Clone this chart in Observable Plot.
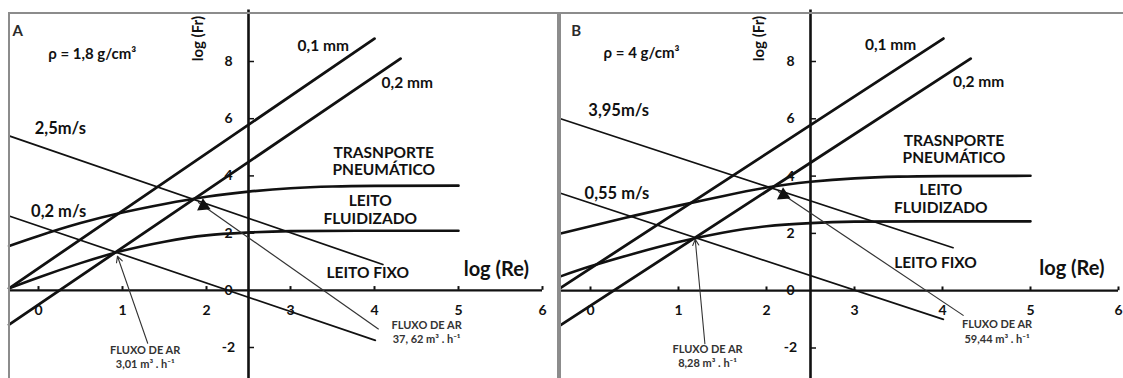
<!DOCTYPE html>
<html><head><meta charset="utf-8">
<script src="https://cdn.jsdelivr.net/npm/d3@7"></script>
<script src="https://cdn.jsdelivr.net/npm/@observablehq/plot@0.6"></script>
<style>
body{margin:0;background:#fff;}
#wrap{position:relative;width:1123px;height:378px;overflow:hidden;background:#fff;}
.panel{position:absolute;top:0;}
.frame{position:absolute;border:2px solid #8c8c8c;border-bottom:none;pointer-events:none;}
</style></head><body>
<div id="wrap"></div>
<script>
// ---- shared tick values ----
const xTicks = [0, 1, 2, 3, 4, 5, 6];
const yTicks = [-2, 0, 2, 4, 6, 8];

// ---- panel A (rho = 1,8 g/cm3) ----
const diam01A = [[-0.35, 0.07], [4.0, 8.8]];
const diam02A = [[-0.35, -1.2], [4.31, 8.1]];
const pneumA = [[-0.35, 1.55], [0, 1.9], [0.5, 2.35], [1, 2.72], [1.5, 3.02], [2, 3.27], [2.5, 3.45], [3, 3.57], [3.5, 3.63], [4, 3.65], [5, 3.66]];
const fluidA = [[-0.35, 0.07], [0, 0.45], [0.5, 0.95], [1, 1.38], [1.5, 1.7], [2, 1.92], [2.5, 2.02], [3, 2.07], [4, 2.08], [5, 2.08]];
const velHighA = [[-0.35, 5.4], [4.1, 0.9]];
const velLowA = [[-0.35, 2.6], [4.01, -1.75]];
const arrowOpenA = {tail: [1.3, -1.85], tip: [0.94, 1.19]};
const arrowFilledA = {tail: [4.05, -1.36], tip: [1.9, 3.08]};

// ---- panel B (rho = 4 g/cm3) ----
const diam01B = [[-0.34, 0.1], [4.01, 8.8]];
const diam02B = [[-0.34, -1.2], [4.32, 8.1]];
const pneumB = [[-0.34, 2.0], [0, 2.25], [0.5, 2.62], [1, 2.97], [1.5, 3.3], [2, 3.6], [2.5, 3.8], [3, 3.92], [3.5, 3.98], [4, 4.0], [5, 4.01]];
const fluidB = [[-0.34, 0.5], [0, 0.85], [0.5, 1.3], [1, 1.7], [1.5, 2.02], [2, 2.25], [2.5, 2.36], [3, 2.41], [4, 2.42], [5, 2.42]];
const velHighB = [[-0.34, 6.0], [4.12, 1.5]];
const velLowB = [[-0.34, 3.4], [4.01, -1.0]];
const arrowOpenB = {tail: [1.3, -1.85], tip: [1.19, 1.79]};
const arrowFilledB = {tail: [4.24, -0.87], tip: [2.13, 3.47]};

// ---- texts ----
const textsA = {
  letter: "A", rho: "ρ = 1,8 g/cm³", velHigh: "2,5m/s", velLow: "0,2 m/s",
  fluxLow: "FLUXO DE AR\n3,01 m³ . h⁻¹", fluxHigh: "FLUXO DE AR\n37, 62 m³ . h⁻¹"
};
const textsB = {
  letter: "B", rho: "ρ = 4 g/cm³", velHigh: "3,95m/s", velLow: "0,55 m/s",
  fluxLow: "FLUXO DE AR\n8,28 m³ . h⁻¹", fluxHigh: "FLUXO DE AR\n59,44 m³ . h⁻¹"
};
const regionTexts = ["TRASNPORTE\nPNEUMÁTICO", "LEITO\nFLUIDIZADO", "LEITO FIXO"];
const sizeTexts = ["0,1 mm", "0,2 mm"];
const axisTitles = {x: "log (Re)", y: "log (Fr)"};

const FONT = "Lato, 'Open Sans', sans-serif";
const INK = "#111";

function panel(cfg) {
  const pxX = (cfg.xr[1] - cfg.xr[0]) / 6;
  const pxY = (cfg.yr[0] - cfg.yr[1]) / 10;
  const xmin = cfg.diam01[0][0];
  const filledAngle = (a) => {
    const dxp = (a.tail[0] - a.tip[0]) * pxX;
    const dyp = -(a.tail[1] - a.tip[1]) * pxY;
    return Math.atan2(-dxp, -dyp) * 180 / Math.PI;
  };
  const fa = cfg.arrowFilled;
  const headPos = [fa.tip[0] + 0.03 * (fa.tail[0] - fa.tip[0]), fa.tip[1] + 0.03 * (fa.tail[1] - fa.tip[1])];
  const t = cfg.texts;
  const L = cfg.lab;
  const txt = (s, p, o = {}) => Plot.text([s], {x: p[0], y: p[1], text: d => d, fontFamily: FONT, fontWeight: "bold", fill: INK, lineAnchor: "middle", ...o});
  return Plot.plot({
    width: cfg.width, height: 378, margin: 0,
    x: {domain: [0, 6], range: cfg.xr, axis: null},
    y: {domain: [-2, 8], range: cfg.yr, axis: null},
    style: {background: "transparent", overflow: "visible"},
    marks: [
      // axes
      Plot.ruleY([0], {x1: xmin, x2: 6, stroke: INK, strokeWidth: 2.2}),
      Plot.ruleX([2.5], {y1: -3.4, y2: 9.8, stroke: INK, strokeWidth: 2.6}),
      Plot.ruleX(xTicks, {x: d => d, y1: 0, y2: 0.13, stroke: INK, strokeWidth: 2}),
      Plot.ruleY(yTicks.filter(d => d !== 0), {y: d => d, x1: 2.5, x2: 2.5 + 6 / pxX, stroke: INK, strokeWidth: 1.5}),
      Plot.text(xTicks, {x: d => d, y: 0, dy: 20, text: d => String(d), fontFamily: FONT, fontWeight: "bold", fontSize: 14, fill: INK}),
      Plot.text(yTicks, {x: 2.5, y: d => d, dx: -20, text: d => String(d), fontFamily: FONT, fontWeight: "bold", fontSize: 14, fill: INK}),
      // velocity lines (thin)
      Plot.line(cfg.velHigh, {stroke: INK, strokeWidth: 1.7}),
      Plot.line(cfg.velLow, {stroke: INK, strokeWidth: 1.7}),
      // regime boundaries
      Plot.line(cfg.pneum, {curve: "natural", stroke: INK, strokeWidth: 2.6}),
      Plot.line(cfg.fluid, {curve: "natural", stroke: INK, strokeWidth: 2.6}),
      // particle diameter lines
      Plot.line(cfg.diam01, {stroke: INK, strokeWidth: 2.8}),
      Plot.line(cfg.diam02, {stroke: INK, strokeWidth: 2.8}),
      // arrows
      Plot.arrow([cfg.arrowOpen], {x1: d => d.tail[0], y1: d => d.tail[1], x2: d => d.tip[0], y2: d => d.tip[1], stroke: "#333", strokeWidth: 1.1, headLength: 9, headAngle: 55}),
      Plot.link([fa], {x1: d => d.tail[0], y1: d => d.tail[1], x2: d => d.tip[0], y2: d => d.tip[1], stroke: "#333", strokeWidth: 1.2}),
      Plot.dot([headPos], {x: d => d[0], y: d => d[1], symbol: "triangle2", r: 6.5, rotate: filledAngle(fa), fill: INK, stroke: "none"}),
      // texts
      txt(t.letter, L.letter, {fontSize: 15, textAnchor: "start", fill: "#2a2a2a"}),
      txt(t.rho, L.rho, {fontSize: 15}),
      txt(axisTitles.y, L.ytitle, {fontSize: 15, rotate: -90}),
      txt(axisTitles.x, L.xtitle, {fontSize: 20}),
      txt(t.velHigh, L.velHigh, {fontSize: 16.5}),
      txt(t.velLow, L.velLow, {fontSize: 16.5}),
      txt(sizeTexts[0], L.s01, {fontSize: 15.5}),
      txt(sizeTexts[1], L.s02, {fontSize: 15.5}),
      txt(regionTexts[0], L.pneum, {fontSize: 15.5, lineHeight: 1.12}),
      txt(regionTexts[1], L.fluid, {fontSize: 15.5, lineHeight: 1.15}),
      txt(regionTexts[2], L.fixo, {fontSize: 15.5}),
      txt(t.fluxLow, L.fluxLow, {fontSize: 11, lineHeight: 1.3, fill: "#333"}),
      txt(t.fluxHigh, L.fluxHigh, {fontSize: 11, lineHeight: 1.3, fill: "#333"})
    ]
  });
}

const A = panel({
  width: 560, xr: [38, 542], yr: [347, 61],
  diam01: diam01A, diam02: diam02A, pneum: pneumA, fluid: fluidA,
  velHigh: velHighA, velLow: velLowA, arrowOpen: arrowOpenA, arrowFilled: arrowFilledA,
  texts: textsA,
  lab: {letter: [-0.31, 9.05], rho: [0.64, 8.25], ytitle: [1.9, 8.8], xtitle: [5.45, 0.73],
        velHigh: [0.26, 5.66], velLow: [0.24, 2.76], s01: [3.39, 8.53], s02: [4.39, 7.24],
        pneum: [4.11, 4.53], fluid: [3.95, 2.83], fixo: [3.92, 0.59],
        fluxLow: [1.27, -2.3], fluxHigh: [4.62, -1.45]}
});
const B = panel({
  width: 563, xr: [30, 558], yr: [347.5, 61],
  diam01: diam01B, diam02: diam02B, pneum: pneumB, fluid: fluidB,
  velHigh: velHighB, velLow: velLowB, arrowOpen: arrowOpenB, arrowFilled: arrowFilledB,
  texts: textsB,
  lab: {letter: [-0.22, 9.05], rho: [0.58, 8.29], ytitle: [1.92, 8.8], xtitle: [5.47, 0.77],
        velHigh: [0.32, 6.29], velLow: [0.30, 3.39], s01: [3.41, 8.57], s02: [4.41, 7.27],
        pneum: [4.13, 4.94], fluid: [3.98, 3.23], fixo: [3.92, 0.98],
        fluxLow: [1.33, -2.27], fluxHigh: [4.62, -1.4]}
});

const wrap = document.getElementById("wrap");
A.classList.add("panel"); A.style.left = "0px";
B.classList.add("panel"); B.style.left = "560px";
wrap.appendChild(A); wrap.appendChild(B);
const fA = document.createElement("div"); fA.className = "frame";
Object.assign(fA.style, {left: "8px", top: "12px", width: "547px", height: "380px"});
const fB = document.createElement("div"); fB.className = "frame";
Object.assign(fB.style, {left: "559px", top: "12px", width: "580px", height: "380px", borderRight: "none"});
wrap.appendChild(fA); wrap.appendChild(fB);
</script>
</body></html>
